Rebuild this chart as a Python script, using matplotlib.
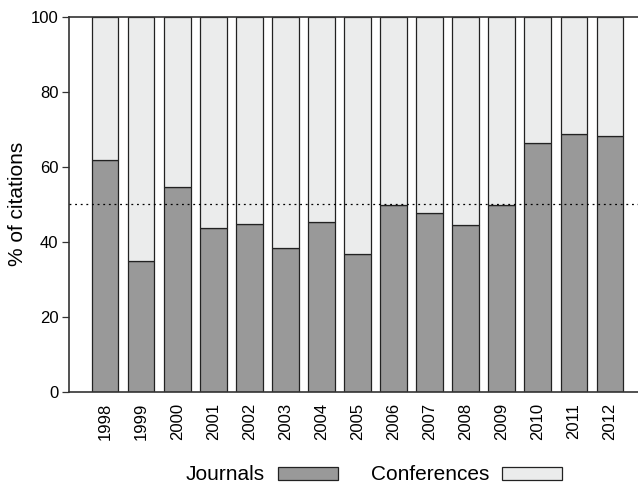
import matplotlib
matplotlib.use("Agg")
import matplotlib.pyplot as plt
import numpy as np

years = ["1998", "1999", "2000", "2001", "2002", "2003", "2004", "2005",
         "2006", "2007", "2008", "2009", "2010", "2011", "2012"]
journals = [61.7, 34.9, 54.6, 43.7, 44.6, 38.3, 45.2, 36.7,
            49.7, 47.6, 44.5, 49.7, 66.2, 68.7, 68.2]
conferences = [100 - j for j in journals]

plt.rcParams["font.family"] = ["Liberation Sans", "DejaVu Sans"]
plt.rcParams["font.size"] = 12

fig = plt.figure(figsize=(6.38, 4.87), dpi=100)
W, H = 638, 487
ax = fig.add_axes([69 / W, 1 - 391.7 / H, (646 - 69) / W, (391.7 - 16.7) / H])

x = np.arange(len(years))
width = 0.74
dark = "#999999"
light = "#ebecec"
edge = "#222222"
ax.bar(x, journals, width, color=dark, edgecolor=edge, linewidth=0.9, label="Journals")
ax.bar(x, conferences, width, bottom=journals, color=light, edgecolor=edge,
       linewidth=0.9, label="Conferences")
ax.axhline(50, color="black", linestyle=(0, (1.5, 3)), linewidth=0.9, zorder=5)

ax.set_xlim(-1, 15)
ax.set_ylim(0, 100)
ax.set_yticks([0, 20, 40, 60, 80, 100])
ax.set_xticks(x)
ax.set_xticklabels(years, rotation=90)
ax.tick_params(axis="x", length=0, pad=8)
ax.tick_params(axis="y", length=5, width=0.9, color="#333333", pad=2.5)
ax.set_ylabel("% of citations", fontsize=15)
ax.yaxis.set_label_coords(-0.073, 0.5)
for s in ax.spines.values():
    s.set_color("#333333")
    s.set_linewidth(1.2)

ax.legend(loc="center", bbox_to_anchor=(374 / W, 1 - 475 / H),
          bbox_transform=fig.transFigure, ncol=2, frameon=False, fontsize=15,
          markerfirst=False, handlelength=2.88, handleheight=0.58,
          columnspacing=1.6, handletextpad=0.62, borderpad=0, borderaxespad=0)

fig.savefig("out.png", dpi=100)
